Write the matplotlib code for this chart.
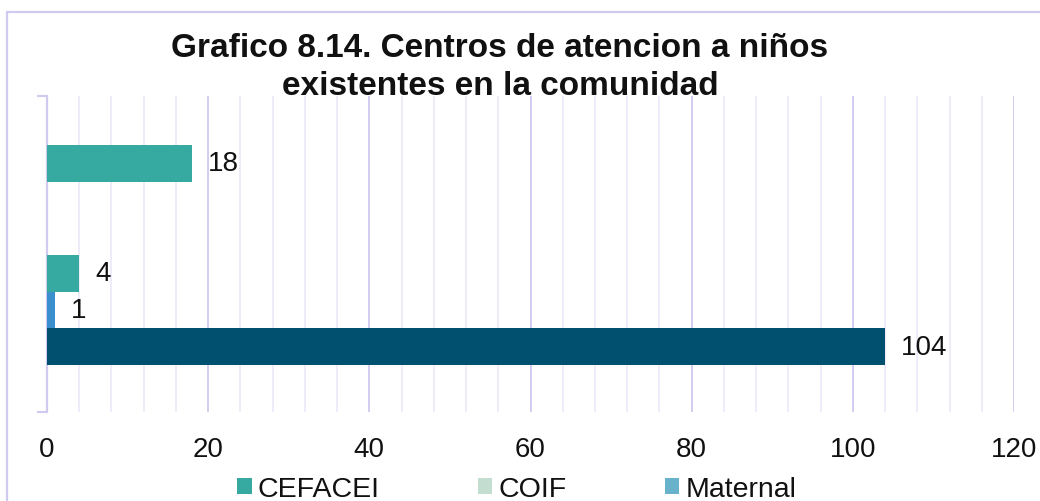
import numpy as np
import matplotlib
matplotlib.use("Agg")
import matplotlib.pyplot as plt
from matplotlib.patches import Rectangle, Patch
from matplotlib.ticker import MultipleLocator

plt.rcParams["font.family"] = ["Liberation Sans", "DejaVu Sans"]

# Bars of the single category, listed top to bottom (0 = no bar drawn)
bar_values = [0, 18, 0, 0, 4, 1, 104, 0]
bar_colors = ["#36AAA0", "#36AAA0", "#C3DED0", "#68B3CB",
              "#36AAA0", "#3B8FCF", "#02506F", "#68B3CB"]

legend_labels = ["CEFACEI", "COIF", "Maternal"]
legend_colors = ["#36AAA0", "#C3DED0", "#68B3CB"]

x_ticks = [0, 20, 40, 60, 80, 100, 120]

title_lines = ["Grafico 8.14. Centros de atencion a niños",
               "existentes en la comunidad"]

W, H = 1040, 502
fig = plt.figure(figsize=(W / 100, H / 100), dpi=100)
fig.patch.set_facecolor("white")

# outer chart-area frame
fig.add_artist(Rectangle((7 / W, -0.05), 1.1, 1 - 13 / H + 0.05,
                         transform=fig.transFigure, fill=False,
                         edgecolor="#CFCAEE", linewidth=1.6))

left, right, top, bottom = 47, 1014, 97, 413
ax = fig.add_axes([left / W, 1 - bottom / H, (right - left) / W, (bottom - top) / H])

pos = np.arange(len(bar_values))
ax.barh(pos, bar_values, height=1.0, color=bar_colors, zorder=3)

for p, v in zip(pos, bar_values):
    if v:
        ax.annotate(str(v), (v, p), xytext=(11.5, 0), textcoords="offset points",
                    va="center", ha="left", fontsize=20, color="#111111")

y_top, y_bot = -0.835, len(bar_values) - 0.5 + 0.28
ax.set_ylim(y_bot, y_top)
ax.set_xlim(0, 120)

ax.xaxis.set_major_locator(MultipleLocator(20))
ax.xaxis.set_minor_locator(MultipleLocator(4))
ax.set_xticks(x_ticks)
ax.grid(True, axis="x", which="major", color="#D2CDF0", linewidth=1.4, zorder=0)
ax.grid(True, axis="x", which="minor", color="#EEEBFA", linewidth=1.3, zorder=0)
ax.tick_params(axis="x", which="both", length=0, pad=17, labelsize=20, labelcolor="#111111")

ax.set_yticks([y_top, y_bot])
ax.set_yticklabels([])
ax.tick_params(axis="y", length=7, width=1.5, color="#CFCAEE", direction="out")

for s in ["top", "right", "bottom"]:
    ax.spines[s].set_visible(False)
ax.spines["left"].set_color("#CFCAEE")
ax.spines["left"].set_linewidth(1.6)
ax.set_axisbelow(True)

# two-line bold title, baselines set separately
for line, base in zip(title_lines, [57, 95]):
    fig.text(500 / W, 1 - base / H, line, ha="center", va="baseline", fontsize=24,
             fontweight="bold", color="#111111", zorder=5)

handles = [Patch(facecolor=c, edgecolor="none") for c in legend_colors]
fig.legend(handles, legend_labels, loc="center", bbox_to_anchor=(517 / W, 1 - 490 / H),
           ncol=3, frameon=False, fontsize=20.5, handlelength=0.5, handleheight=0.5,
           handletextpad=0.22, columnspacing=3.45, labelcolor="#111111")

fig.savefig("out.png", dpi=100, facecolor="white")
